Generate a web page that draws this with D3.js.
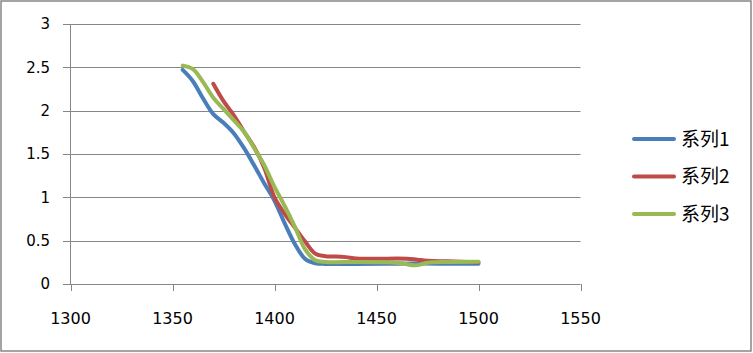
<!DOCTYPE html>
<html>
  <head>
    <meta charset="utf-8">
    <script src="https://cdn.jsdelivr.net/npm/d3@7"></script>
    <style>
      body{
        margin: 0;
        padding: 0;
        background-color: white;
      }
      svg text{
        font-family: "DejaVu Sans", sans-serif;
        fill: #000;
      }
    </style>
  </head>
  <body>
    <div id="chart"></div>
    <script>
      // values
      var seriesNames = ["系列1", "系列2", "系列3"];
      var colors = ["#4a7ebb", "#be4b48", "#98b954"];
      var xTicks = [1300, 1350, 1400, 1450, 1500, 1550];
      var yTicks = [0, 0.5, 1, 1.5, 2, 2.5, 3];

      var x1 = [1355, 1360, 1365, 1370, 1375, 1380, 1385, 1390, 1395, 1400, 1405, 1410, 1415, 1420, 1425, 1440, 1460, 1480, 1500];
      var y1 = [2.47, 2.34, 2.14, 1.96, 1.86, 1.74, 1.57, 1.37, 1.16, 0.96, 0.70, 0.46, 0.29, 0.24, 0.232, 0.232, 0.235, 0.235, 0.235];

      var x2 = [1370, 1375, 1380, 1385, 1390, 1395, 1400, 1405, 1410, 1415, 1420, 1425, 1430, 1435, 1440, 1450, 1460, 1465, 1470, 1475, 1485, 1500];
      var y2 = [2.31, 2.11, 1.95, 1.76, 1.58, 1.34, 1.00, 0.81, 0.65, 0.49, 0.35, 0.32, 0.318, 0.31, 0.295, 0.29, 0.295, 0.292, 0.28, 0.268, 0.262, 0.252];

      var x3 = [1355, 1360, 1365, 1370, 1375, 1380, 1385, 1390, 1395, 1400, 1405, 1410, 1415, 1420, 1425, 1440, 1455, 1462, 1469, 1475, 1485, 1500];
      var y3 = [2.52, 2.48, 2.33, 2.15, 2.02, 1.89, 1.76, 1.57, 1.37, 1.12, 0.90, 0.66, 0.40, 0.275, 0.255, 0.255, 0.25, 0.24, 0.215, 0.245, 0.255, 0.258];

      var xs = [x1, x2, x3], ys = [y1, y2, y3];

      var width = 753, height = 353;
      var svg = d3.select("#chart").append("svg")
        .attr("width", width).attr("height", height);

      // outer frame
      svg.append("rect")
        .attr("x", 1).attr("y", 1).attr("width", 750).attr("height", 350)
        .attr("fill", "white").attr("stroke", "#868686").attr("stroke-width", 1.5);

      var x = d3.scaleLinear().domain([1300, 1550]).range([70.5, 580.5]);
      var y = d3.scaleLinear().domain([0, 3]).range([284, 24]);

      // horizontal grid + y ticks
      svg.append("g").selectAll("line").data(yTicks).enter().append("line")
        .attr("x1", 63).attr("x2", x(1550))
        .attr("y1", function(d){ return Math.round(y(d)) + 0.5; })
        .attr("y2", function(d){ return Math.round(y(d)) + 0.5; })
        .attr("stroke", "#868686").attr("stroke-width", 1);

      svg.append("g").selectAll("text").data(yTicks).enter().append("text")
        .attr("x", 50).attr("y", function(d){ return y(d); })
        .attr("dy", "0.36em")
        .attr("text-anchor", "end")
        .style("font-size", "15px")
        .text(function(d){ return d; });

      // y axis line
      svg.append("line")
        .attr("x1", x(1300)).attr("x2", x(1300))
        .attr("y1", y(3)).attr("y2", y(0) + 0.5)
        .attr("stroke", "#868686");

      // x ticks
      svg.append("g").selectAll("line").data(xTicks).enter().append("line")
        .attr("x1", function(d){ return Math.round(x(d)) + 0.5; })
        .attr("x2", function(d){ return Math.round(x(d)) + 0.5; })
        .attr("y1", y(0)).attr("y2", y(0) + 7)
        .attr("stroke", "#868686");

      svg.append("g").selectAll("text").data(xTicks).enter().append("text")
        .attr("x", function(d){ return x(d); }).attr("y", 318)
        .attr("dy", "0.36em")
        .attr("text-anchor", "middle")
        .style("font-size", "16px")
        .text(function(d){ return d; });

      var line = d3.line()
        .x(function(d){ return x(d[0]); })
        .y(function(d){ return y(d[1]); })
        .curve(d3.curveCatmullRom.alpha(0.5));

      // draw order: 1, 2, 3 (green on top)
      xs.forEach(function(xv, i){
        var pts = xv.map(function(v, j){ return [v, ys[i][j]]; });
        svg.append("path")
          .datum(pts)
          .attr("d", line)
          .attr("fill", "none")
          .attr("stroke", colors[i])
          .attr("stroke-width", 4)
          .attr("stroke-linecap", "round")
          .attr("stroke-linejoin", "round");
      });

      // legend
      var legend = svg.append("g").selectAll("g").data(seriesNames).enter().append("g")
        .attr("transform", function(d, i){ return "translate(0," + (139 + i * 37.5) + ")"; });
      legend.append("line")
        .attr("x1", 634).attr("x2", 674)
        .attr("stroke", function(d, i){ return colors[i]; })
        .attr("stroke-width", 4).attr("stroke-linecap", "round");
      legend.append("text")
        .attr("x", 681).attr("dy", "0.36em")
        .style("font-family", "'Noto Sans CJK SC', sans-serif")
        .style("font-size", "19px")
        .text(function(d){ return d; });
    </script>
  </body>
</html>
